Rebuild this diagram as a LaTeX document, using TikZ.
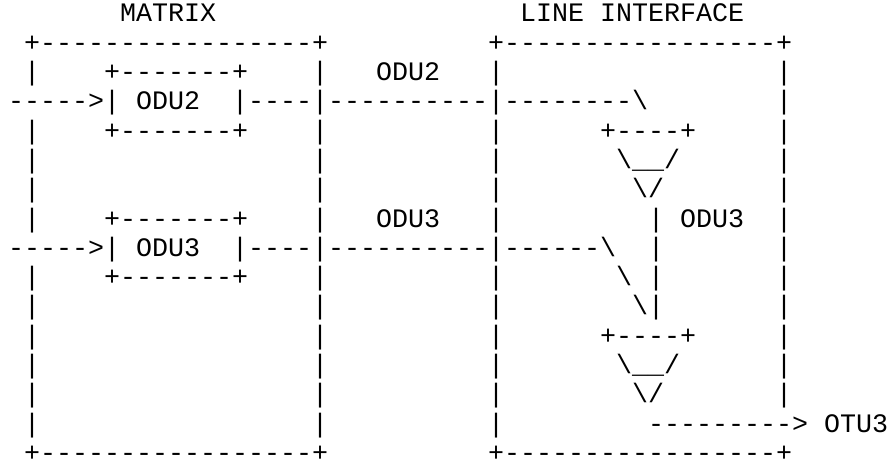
\documentclass[tikz,border=0pt]{standalone}
\usepackage{fontspec}
\setmonofont{Liberation Mono}
\newcommand\bs{\textbackslash}
\newcommand\us{\_}
\newcommand\spc[1]{\hspace*{#1\fontdimen2\font}}
\tikzset{asc/.style={font=\ttfamily\fontsize{20pt}{22pt}\selectfont, anchor=base west, inner sep=0pt, outer sep=0pt, text=black}}
\begin{document}
\begin{tikzpicture}[x=1pt,y=1pt]
\useasboundingbox (0,0) rectangle (666.75,-347.25);
\node[asc] (r1)  at (6,-16.5)    {\spc{7}MATRIX\spc{19}LINE\spc{1}INTERFACE};
\node[asc] (r2)  at (6,-38.475)  {\spc{1}+-----------------+\spc{10}+-----------------+};
\node[asc] (r3)  at (6,-60.45)   {\spc{1}|\spc{4}+-------+\spc{4}|\spc{3}ODU2\spc{3}|\spc{17}|};
\node[asc] (r4)  at (6,-82.425)  {----->|\spc{1}ODU2\spc{2}|----|----------|--------\bs\spc{8}|};
\node[asc] (r5)  at (6,-104.4)   {\spc{1}|\spc{4}+-------+\spc{4}|\spc{10}|\spc{6}+----+\spc{5}|};
\node[asc] (r6)  at (6,-126.375) {\spc{1}|\spc{17}|\spc{10}|\spc{7}\bs\us\us/\spc{6}|};
\node[asc] (r7)  at (6,-148.35)  {\spc{1}|\spc{17}|\spc{10}|\spc{8}\bs/\spc{7}|};
\node[asc] (r8)  at (6,-170.325) {\spc{1}|\spc{4}+-------+\spc{4}|\spc{3}ODU3\spc{3}|\spc{9}|\spc{1}ODU3\spc{2}|};
\node[asc] (r9)  at (6,-192.3)   {----->|\spc{1}ODU3\spc{2}|----|----------|------\bs\spc{2}|\spc{7}|};
\node[asc] (r10) at (6,-214.275) {\spc{1}|\spc{4}+-------+\spc{4}|\spc{10}|\spc{7}\bs\spc{1}|\spc{7}|};
\node[asc] (r11) at (6,-236.25)  {\spc{1}|\spc{17}|\spc{10}|\spc{8}\bs|\spc{7}|};
\node[asc] (r12) at (6,-258.225) {\spc{1}|\spc{17}|\spc{10}|\spc{6}+----+\spc{5}|};
\node[asc] (r13) at (6,-280.2)   {\spc{1}|\spc{17}|\spc{10}|\spc{7}\bs\us\us/\spc{6}|};
\node[asc] (r14) at (6,-302.175) {\spc{1}|\spc{17}|\spc{10}|\spc{8}\bs/\spc{7}|};
\node[asc] (r15) at (6,-324.15)  {\spc{1}|\spc{17}|\spc{10}|\spc{9}--------->\spc{1}OTU3};
\node[asc] (r16) at (6,-346.125) {\spc{1}+-----------------+\spc{10}+-----------------+};
\end{tikzpicture}
\end{document}
